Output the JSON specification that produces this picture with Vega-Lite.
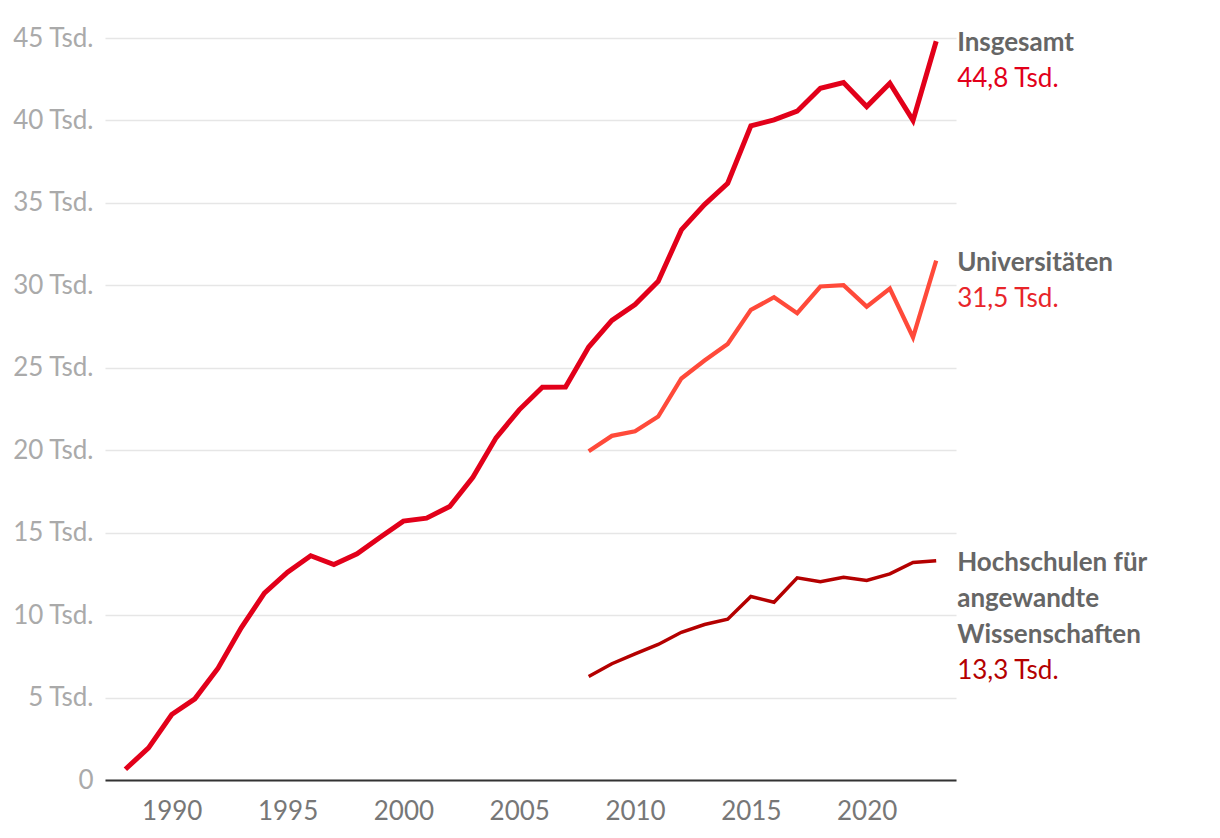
{
  "$schema": "https://vega.github.io/schema/vega-lite/v6.json",
  "width": 851,
  "height": 742,
  "autosize": "none",
  "padding": {"left": 105, "top": 38, "right": 264, "bottom": 58},
  "config": {"font": "Lato", "view": {"stroke": null}},
  "datasets": {
    "series": [
      {"year": 1988, "series": "Insgesamt", "value": 0.65},
      {"year": 1989, "series": "Insgesamt", "value": 1.95},
      {"year": 1990, "series": "Insgesamt", "value": 3.97},
      {"year": 1991, "series": "Insgesamt", "value": 4.92},
      {"year": 1992, "series": "Insgesamt", "value": 6.78},
      {"year": 1993, "series": "Insgesamt", "value": 9.23},
      {"year": 1994, "series": "Insgesamt", "value": 11.33},
      {"year": 1995, "series": "Insgesamt", "value": 12.6},
      {"year": 1996, "series": "Insgesamt", "value": 13.6},
      {"year": 1997, "series": "Insgesamt", "value": 13.07},
      {"year": 1998, "series": "Insgesamt", "value": 13.72},
      {"year": 1999, "series": "Insgesamt", "value": 14.72},
      {"year": 2000, "series": "Insgesamt", "value": 15.7},
      {"year": 2001, "series": "Insgesamt", "value": 15.88},
      {"year": 2002, "series": "Insgesamt", "value": 16.59},
      {"year": 2003, "series": "Insgesamt", "value": 18.36},
      {"year": 2004, "series": "Insgesamt", "value": 20.75},
      {"year": 2005, "series": "Insgesamt", "value": 22.45},
      {"year": 2006, "series": "Insgesamt", "value": 23.82},
      {"year": 2007, "series": "Insgesamt", "value": 23.84},
      {"year": 2008, "series": "Insgesamt", "value": 26.26},
      {"year": 2009, "series": "Insgesamt", "value": 27.87},
      {"year": 2010, "series": "Insgesamt", "value": 28.84},
      {"year": 2011, "series": "Insgesamt", "value": 30.25},
      {"year": 2012, "series": "Insgesamt", "value": 33.36},
      {"year": 2013, "series": "Insgesamt", "value": 34.9},
      {"year": 2014, "series": "Insgesamt", "value": 36.19},
      {"year": 2015, "series": "Insgesamt", "value": 39.67},
      {"year": 2016, "series": "Insgesamt", "value": 40.03},
      {"year": 2017, "series": "Insgesamt", "value": 40.56},
      {"year": 2018, "series": "Insgesamt", "value": 41.95},
      {"year": 2019, "series": "Insgesamt", "value": 42.3},
      {"year": 2020, "series": "Insgesamt", "value": 40.84},
      {"year": 2021, "series": "Insgesamt", "value": 42.26},
      {"year": 2022, "series": "Insgesamt", "value": 40.0},
      {"year": 2023, "series": "Insgesamt", "value": 44.8},
      {"year": 2008, "series": "Universitäten", "value": 19.94},
      {"year": 2009, "series": "Universitäten", "value": 20.87},
      {"year": 2010, "series": "Universitäten", "value": 21.15},
      {"year": 2011, "series": "Universitäten", "value": 22.04},
      {"year": 2012, "series": "Universitäten", "value": 24.35},
      {"year": 2013, "series": "Universitäten", "value": 25.44},
      {"year": 2014, "series": "Universitäten", "value": 26.45},
      {"year": 2015, "series": "Universitäten", "value": 28.51},
      {"year": 2016, "series": "Universitäten", "value": 29.28},
      {"year": 2017, "series": "Universitäten", "value": 28.31},
      {"year": 2018, "series": "Universitäten", "value": 29.93},
      {"year": 2019, "series": "Universitäten", "value": 30.01},
      {"year": 2020, "series": "Universitäten", "value": 28.71},
      {"year": 2021, "series": "Universitäten", "value": 29.81},
      {"year": 2022, "series": "Universitäten", "value": 26.85},
      {"year": 2023, "series": "Universitäten", "value": 31.5},
      {"year": 2008, "series": "HAW", "value": 6.28},
      {"year": 2009, "series": "HAW", "value": 7.05},
      {"year": 2010, "series": "HAW", "value": 7.65},
      {"year": 2011, "series": "HAW", "value": 8.22},
      {"year": 2012, "series": "HAW", "value": 8.96},
      {"year": 2013, "series": "HAW", "value": 9.43},
      {"year": 2014, "series": "HAW", "value": 9.75},
      {"year": 2015, "series": "HAW", "value": 11.13},
      {"year": 2016, "series": "HAW", "value": 10.78},
      {"year": 2017, "series": "HAW", "value": 12.26},
      {"year": 2018, "series": "HAW", "value": 12.02},
      {"year": 2019, "series": "HAW", "value": 12.3},
      {"year": 2020, "series": "HAW", "value": 12.1},
      {"year": 2021, "series": "HAW", "value": 12.5},
      {"year": 2022, "series": "HAW", "value": 13.19},
      {"year": 2023, "series": "HAW", "value": 13.3}
    ],
    "labels": [
      {"year": 2023, "series": "Insgesamt", "value": 44.8, "name": "Insgesamt", "valueLabel": "44,8 Tsd."},
      {"year": 2023, "series": "Universitäten", "value": 31.5, "name": "Universitäten", "valueLabel": "31,5 Tsd."},
      {"year": 2023, "series": "HAW", "value": 13.3, "name": "Hochschulen für|angewandte|Wissenschaften", "valueLabel": "13,3 Tsd."}
    ]
  },
  "layer": [
    {
      "data": {"name": "series"},
      "mark": {"type": "line", "clip": false},
      "encoding": {
        "x": {
          "field": "year", "type": "quantitative",
          "scale": {"domain": [1987.12, 2023.855], "nice": false, "zero": false},
          "axis": {
            "title": null, "values": [1990, 1995, 2000, 2005, 2010, 2015, 2020], "format": "d",
            "labelFontSize": 26, "labelColor": "#777777", "labelFont": "Lato",
            "ticks": false, "tickSize": 0, "labelPadding": 18,
            "domain": true, "domainColor": "#333333", "domainWidth": 2,
            "grid": false
          }
        },
        "y": {
          "field": "value", "type": "quantitative",
          "scale": {"domain": [0, 45], "nice": false},
          "axis": {
            "title": null, "values": [0, 5, 10, 15, 20, 25, 30, 35, 40, 45],
            "labelExpr": "datum.value == 0 ? '0' : datum.value + ' Tsd.'",
            "labelFontSize": 26, "labelColor": "#aaaaaa", "labelFont": "Lato",
            "ticks": false, "tickSize": 0, "labelPadding": 12,
            "domain": false, "grid": true, "gridColor": "#e6e6e6", "gridWidth": 1.5
          }
        },
        "color": {
          "field": "series", "type": "nominal", "legend": null,
          "scale": {"domain": ["Insgesamt", "Universitäten", "HAW"], "range": ["#e2001a", "#ff4a3a", "#b40000"]}
        },
        "size": {
          "field": "series", "type": "nominal", "legend": null,
          "scale": {"domain": ["Insgesamt", "Universitäten", "HAW"], "range": [5, 3.5, 3.5]}
        }
      }
    },
    {
      "data": {"name": "labels"},
      "mark": {"type": "text", "align": "left", "baseline": "alphabetic", "dx": 21, "dy": 10, "fontSize": 26, "fontWeight": "bold", "color": "#666666", "lineBreak": "|", "lineHeight": 36},
      "encoding": {
        "x": {"field": "year", "type": "quantitative"},
        "y": {"field": "value", "type": "quantitative"},
        "text": {"field": "name"}
      }
    },
    {
      "data": {"name": "labels"},
      "mark": {"type": "text", "align": "left", "baseline": "alphabetic", "dx": 21, "dy": {"expr": "10 + 36 * length(split(datum.name, '|'))"}, "fontSize": 26},
      "encoding": {
        "x": {"field": "year", "type": "quantitative"},
        "y": {"field": "value", "type": "quantitative"},
        "text": {"field": "valueLabel"},
        "color": {
          "field": "series", "type": "nominal", "legend": null,
          "scale": {"domain": ["Insgesamt", "Universitäten", "HAW"], "range": ["#e2001a", "#e8252a", "#b40000"]}
        }
      }
    }
  ],
  "resolve": {"scale": {"color": "independent"}}
}
